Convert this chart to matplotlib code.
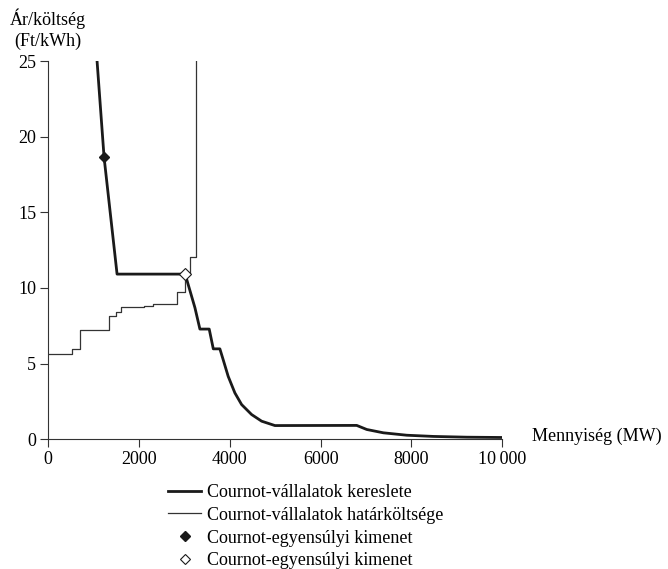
import matplotlib
matplotlib.use("Agg")
import matplotlib.pyplot as plt
from matplotlib.lines import Line2D

plt.rcParams['font.family'] = ['Liberation Serif', 'DejaVu Serif']
plt.rcParams['font.size'] = 13

# ===== adatok (leolvasva az ábráról) =====
# Cournot-vállalatok kereslete (vastag vonal)
kereslet_x = [1075, 1229, 1515, 3015, 3230, 3340, 3545, 3635, 3780, 3853, 3963,
              4111, 4259, 4479, 4700, 4993, 6795, 7016, 7382, 7898, 8485, 9221, 10000]
kereslet_y = [25.0, 18.65, 10.92, 10.92, 8.7, 7.28, 7.28, 5.97, 5.97, 5.25, 4.15,
              3.05, 2.28, 1.62, 1.18, 0.89, 0.90, 0.63, 0.41, 0.25, 0.17, 0.12, 0.10]

# Cournot-vállalatok határköltsége (vékony lépcsős vonal)
hk_x = [0, 523, 693, 1332, 1502, 1597, 2111, 2309, 2839, 3010, 3119, 3251]
hk_y = [5.63, 5.96, 7.24, 8.12, 8.41, 8.74, 8.82, 8.93, 9.73, 10.92, 12.08, 30.0]

# egyensúlyi pontok
egy1 = (1229, 18.65)
egy2 = (3015, 10.92)

xticks = [0, 2000, 4000, 6000, 8000, 10000]
xtick_labels = ['0', '2000', '4000', '6000', '8000', '10\u2009000']
yticks = [0, 5, 10, 15, 20, 25]

fig = plt.figure(figsize=(6.68, 5.69), dpi=100)
ax = fig.add_axes([48.3 / 668, 1 - 439 / 569, (502.2 - 48.3) / 668, (439 - 61.5) / 569])

ax.plot(hk_x, hk_y, drawstyle='steps-post', color='#333333', lw=0.9, zorder=2)
ax.plot(kereslet_x, kereslet_y, color='#1a1a1a', lw=2.0, zorder=3,
        solid_joinstyle='round')
ax.plot([egy1[0]], [egy1[1]], marker='D', ms=5.6, color='#1a1a1a', zorder=4)
ax.plot([egy2[0]], [egy2[1]], marker='D', ms=6.3, mfc='white', mec='#1a1a1a',
        mew=0.8, zorder=5)

ax.set_xlim(0, 10000)
ax.set_ylim(0, 25)
ax.set_xticks(xticks)
ax.set_xticklabels(xtick_labels)
ax.set_yticks(yticks)
ax.tick_params(direction='out', length=5.8, width=0.8, color='#333333', pad=3)
for s in ['top', 'right']:
    ax.spines[s].set_visible(False)
for s in ['left', 'bottom']:
    ax.spines[s].set_color('#333333')
    ax.spines[s].set_linewidth(0.8)

# tengelyfeliratok
fig.text(48.3 / 668, 1 - 19 / 569, 'Ár/költség', ha='center', va='center')
fig.text(48.3 / 668, 1 - 41 / 569, '(Ft/kWh)', ha='center', va='center')
fig.text(531.7 / 668, 1 - 441 / 569, 'Mennyiség (MW)', ha='left', va='baseline')

# jelmagyarázat
handles = [
    Line2D([], [], color='#1a1a1a', lw=2.0),
    Line2D([], [], color='#333333', lw=0.9),
    Line2D([], [], ls='none', marker='D', ms=5.2, color='#1a1a1a'),
    Line2D([], [], ls='none', marker='D', ms=5.2, mfc='white', mec='#1a1a1a', mew=0.8),
]
labels = ['Cournot-vállalatok kereslete',
          'Cournot-vállalatok határköltsége',
          'Cournot-egyensúlyi kimenet',
          'Cournot-egyensúlyi kimenet']
fig.legend(handles, labels, loc='upper left', bbox_to_anchor=(168.3 / 668, 1 - 484 / 569),
           frameon=False, borderpad=0, borderaxespad=0, handlelength=1.8,
           handletextpad=0.35, labelspacing=0.32)

fig.savefig('out.png', dpi=100)
